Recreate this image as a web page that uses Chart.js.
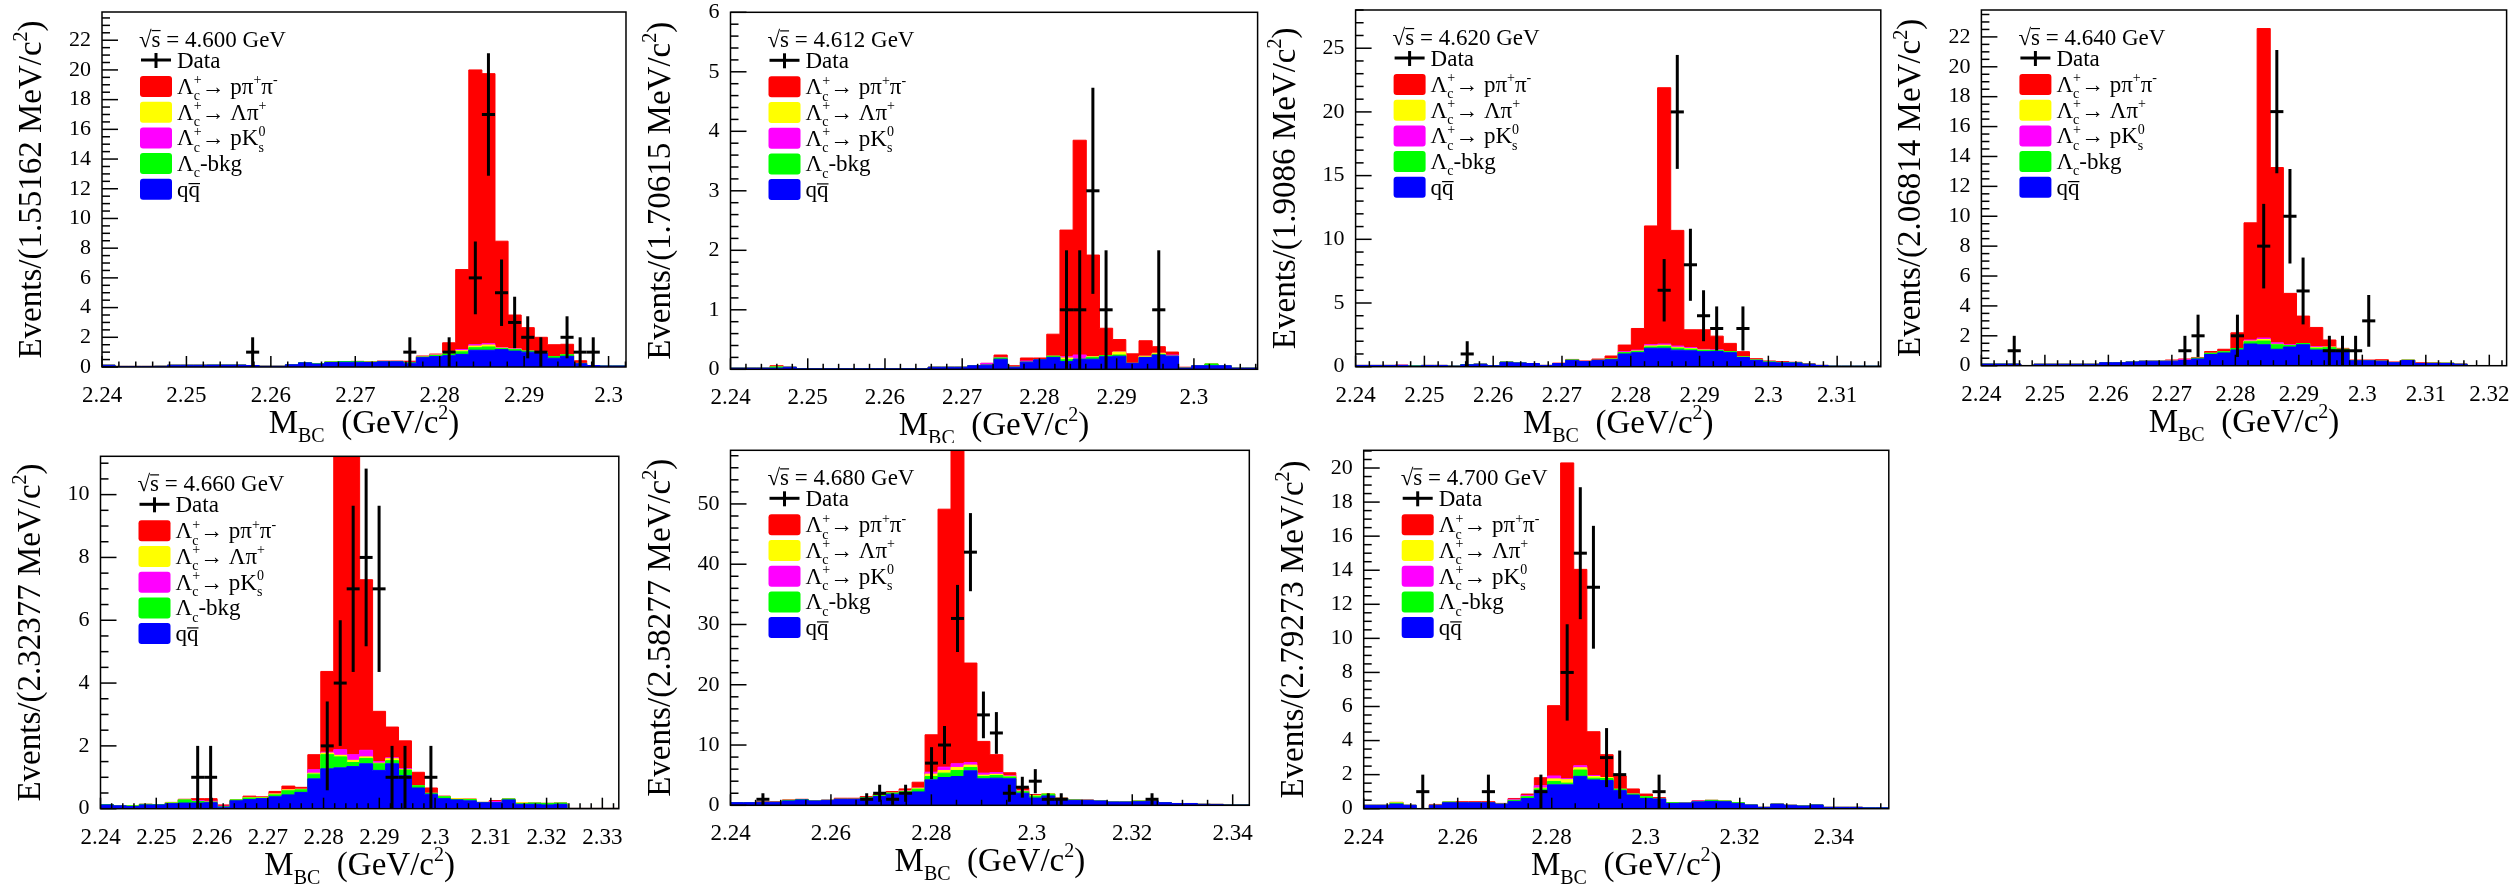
<!DOCTYPE html>
<html>
<head>
<meta charset="utf-8">
<script src="https://cdn.jsdelivr.net/npm/chart.js@4.4.0/dist/chart.umd.min.js"></script>
<style>
  html, body { margin: 0; padding: 0; background: #fff; }
  body { width: 2519px; height: 888px; position: relative; overflow: hidden; }
</style>
</head>
<body>
<script>
'use strict';

var FONT = '"Liberation Serif", "Times New Roman", serif';
var NBINS = 40;
var M_LOW = 2.24;

// centre-of-mass energies (GeV) and M_BC bin widths (MeV/c^2)
var energies = ['4.600', '4.612', '4.620', '4.640', '4.660', '4.680', '4.700'];
var binWidths = [1.55162, 1.70615, 1.9086, 2.06814, 2.32377, 2.58277, 2.79273];

// ---- 4.600 GeV ----
var qq4600 = [
  0.12, 0.12, 0.04, 0.04, 0.04, 0.05, 0.12, 0.12, 0.12, 0.13,
  0.13, 0.13, 0.10, 0.05, 0.05, 0.15, 0.28, 0.20, 0.30, 0.32,
  0.32, 0.30, 0.35, 0.35, 0.26, 0.63, 0.70, 0.76, 0.85, 1.13,
  1.13, 1.17, 1.07, 1.00, 0.91, 0.59, 0.72, 0.22, 0.10, 0.07];
var bkg4600 = [
  0, 0, 0, 0, 0, 0, 0, 0, 0, 0,
  0, 0, 0, 0, 0, 0, 0.02, 0.02, 0.04, 0.05,
  0.04, 0.03, 0.02, 0.02, 0.03, 0.04, 0.08, 0.11, 0.17, 0.17,
  0.22, 0.07, 0.10, 0.07, 0.07, 0.11, 0.10, 0.02, 0, 0];
var lpi4600 = [
  0, 0, 0, 0, 0, 0, 0, 0, 0, 0,
  0, 0, 0, 0, 0, 0, 0, 0, 0, 0,
  0, 0, 0, 0, 0, 0, 0.02, 0.05, 0.08, 0.11,
  0.13, 0.03, 0.03, 0, 0, 0, 0, 0, 0, 0];
var pks4600 = [
  0, 0, 0, 0, 0, 0, 0, 0, 0, 0,
  0, 0, 0, 0, 0, 0, 0, 0, 0, 0,
  0, 0, 0, 0, 0.02, 0.02, 0.02, 0.06, 0.07, 0.09,
  0.09, 0.03, 0.04, 0, 0, 0, 0, 0, 0, 0];
var ppp4600 = [
  0, 0, 0, 0, 0, 0, 0, 0, 0, 0,
  0, 0, 0, 0, 0, 0, 0, 0, 0, 0,
  0.02, 0.03, 0.03, 0.03, 0.08, 0.05, 0.05, 0.65, 5.39, 18.5,
  18.18, 7.17, 2.26, 1.58, 1.02, 0.80, 0.71, 0.18, 0, 0];
var data4600 = [
  0, 0, 0, 0, 0, 0, 0, 0, 0, 0,
  0, 1, 0, 0, 0, 0, 0, 0, 0, 0,
  0, 0, 0, 1, 0, 0, 1, 0, 6, 17,
  5, 3, 2, 1, 0, 2, 1, 1, 0, 0];

// ---- 4.612 GeV ----
var qq4612 = [
  0.02, 0.02, 0.02, 0.02, 0.02, 0.035, 0.01, 0.01, 0.01, 0.01,
  0.01, 0.01, 0.01, 0.01, 0.01, 0.01, 0.035, 0.035, 0.035, 0.06,
  0.07, 0.17, 0.035, 0.12, 0.16, 0.20, 0.13, 0.17, 0.17, 0.21,
  0.22, 0.10, 0.20, 0.24, 0.22, 0.02, 0.06, 0.06, 0.06, 0.02];
var bkg4612 = [
  0, 0, 0, 0, 0.02, 0, 0, 0, 0, 0,
  0, 0, 0, 0, 0, 0, 0, 0, 0, 0,
  0, 0.02, 0, 0, 0, 0.02, 0.03, 0, 0.03, 0.02,
  0.02, 0, 0, 0.01, 0, 0, 0, 0.03, 0, 0];
var lpi4612 = [
  0, 0, 0, 0, 0, 0, 0, 0, 0, 0,
  0, 0, 0, 0, 0, 0, 0, 0, 0, 0,
  0, 0, 0, 0, 0, 0, 0.03, 0, 0.01, 0,
  0.05, 0, 0.02, 0.02, 0, 0, 0, 0, 0, 0];
var pks4612 = [
  0, 0, 0, 0, 0, 0, 0, 0, 0, 0,
  0, 0, 0, 0, 0, 0, 0, 0, 0, 0,
  0.03, 0.01, 0, 0.02, 0, 0, 0.02, 0.07, 0, 0,
  0, 0, 0, 0, 0.02, 0, 0, 0, 0, 0];
var ppp4612 = [
  0, 0, 0, 0, 0.02, 0, 0, 0, 0, 0,
  0, 0, 0, 0, 0, 0, 0, 0, 0, 0,
  0, 0.04, 0.025, 0.05, 0.03, 0.37, 2.13, 3.61, 1.71, 0.46,
  0.21, 0.16, 0.26, 0.11, 0.05, 0.015, 0, 0, 0, 0];
var data4612 = [
  0, 0, 0, 0, 0, 0, 0, 0, 0, 0,
  0, 0, 0, 0, 0, 0, 0, 0, 0, 0,
  0, 0, 0, 0, 0, 1, 1, 3, 1, 0,
  0, 0, 1, 0, 0, 0, 0, 0, 0, 0];

// ---- 4.620 GeV ----
var qq4620 = [
  0.10, 0.10, 0.10, 0.10, 0.10, 0.05, 0.10, 0.10, 0.05, 0.15,
  0.20, 0.08, 0.35, 0.30, 0.25, 0.10, 0.25, 0.50, 0.40, 0.50,
  0.55, 1.00, 1.10, 1.45, 1.45, 1.30, 1.25, 1.18, 1.20, 1.10,
  0.72, 0.50, 0.35, 0.30, 0.30, 0.20, 0.10, 0.05, 0.05, 0.05];
var bkg4620 = [
  0, 0, 0, 0, 0, 0.02, 0, 0, 0, 0.02,
  0, 0, 0.02, 0, 0, 0, 0, 0.03, 0, 0,
  0.05, 0.10, 0.10, 0.10, 0.15, 0.15, 0.12, 0.10, 0.08, 0.08,
  0.05, 0.03, 0.03, 0.03, 0.03, 0, 0, 0, 0, 0];
var lpi4620 = [
  0, 0, 0, 0, 0, 0, 0, 0, 0, 0,
  0, 0, 0, 0, 0, 0, 0, 0, 0, 0,
  0, 0, 0.03, 0.08, 0.08, 0.07, 0.05, 0.03, 0, 0,
  0, 0, 0, 0, 0, 0, 0, 0, 0, 0];
var pks4620 = [
  0, 0, 0, 0, 0.02, 0, 0, 0, 0, 0,
  0, 0, 0, 0, 0, 0, 0, 0, 0, 0,
  0, 0.08, 0.07, 0.10, 0.10, 0.10, 0.08, 0.05, 0.05, 0,
  0, 0, 0, 0, 0, 0, 0, 0, 0, 0];
var ppp4620 = [
  0, 0, 0, 0, 0, 0, 0, 0, 0, 0,
  0, 0, 0, 0, 0, 0, 0.03, 0.04, 0.05, 0.10,
  0.24, 0.52, 1.70, 9.32, 20.12, 9.08, 1.40, 1.54, 1.07, 0.65,
  0.41, 0.10, 0.07, 0.07, 0.02, 0.05, 0, 0, 0, 0];
var data4620 = [
  0, 0, 0, 0, 0, 0, 0, 0, 1, 0,
  0, 0, 0, 0, 0, 0, 0, 0, 0, 0,
  0, 0, 0, 6, 20, 8, 4, 3, 0, 3,
  0, 0, 0, 0, 0, 0, 0, 0, 0, 0];

// ---- 4.640 GeV ----
var qq4640 = [
  0.11, 0.11, 0.11, 0.11, 0, 0.10, 0.10, 0.10, 0.10, 0.10,
  0.20, 0.20, 0.25, 0.30, 0.30, 0.30, 0.35, 0.45, 0.75, 0.85,
  1.05, 1.45, 1.40, 1.10, 1.25, 1.40, 1.05, 1.05, 1.00, 0.33,
  0.33, 0.30, 0.20, 0.35, 0.15, 0.15, 0.15, 0.10, 0, 0];
var bkg4640 = [
  0, 0, 0, 0, 0, 0, 0, 0, 0, 0,
  0, 0, 0, 0, 0, 0, 0, 0.05, 0.08, 0.08,
  0.10, 0.15, 0.25, 0.30, 0.10, 0.08, 0.12, 0.15, 0.10, 0,
  0, 0, 0, 0.02, 0, 0.02, 0.02, 0, 0, 0];
var lpi4640 = [
  0, 0, 0, 0, 0, 0, 0, 0, 0, 0,
  0, 0, 0, 0, 0, 0, 0, 0, 0, 0,
  0, 0.05, 0.10, 0.03, 0, 0, 0.05, 0.05, 0, 0,
  0, 0, 0, 0, 0, 0, 0, 0, 0, 0];
var pks4640 = [
  0, 0, 0, 0, 0, 0, 0, 0, 0, 0,
  0, 0, 0, 0, 0, 0.03, 0.05, 0, 0, 0,
  0, 0.07, 0.10, 0.10, 0.05, 0, 0.05, 0, 0, 0,
  0, 0, 0, 0, 0, 0, 0, 0, 0, 0];
var ppp4640 = [
  0, 0, 0, 0, 0, 0, 0, 0, 0, 0,
  0, 0, 0, 0, 0, 0.05, 0.05, 0.05, 0.12, 0.17,
  1.05, 7.84, 20.71, 11.73, 3.44, 1.84, 1.29, 0.47, 0.06, 0.05,
  0.05, 0.10, 0.05, 0, 0.05, 0.03, 0, 0.02, 0, 0];
var data4640 = [
  0, 0, 1, 0, 0, 0, 0, 0, 0, 0,
  0, 0, 0, 0, 0, 1, 2, 0, 0, 2,
  0, 8, 17, 10, 5, 0, 1, 1, 1, 3,
  0, 0, 0, 0, 0, 0, 0, 0, 0, 0];

// ---- 4.660 GeV ----
var qq4660 = [
  0.05, 0.12, 0.09, 0.07, 0.12, 0.12, 0.16, 0.18, 0.18, 0.19,
  0.05, 0.25, 0.29, 0.32, 0.38, 0.44, 0.52, 0.95, 1.27, 1.30,
  1.34, 1.43, 1.22, 1.43, 1.05, 0.66, 0.46, 0.32, 0.28, 0.25,
  0.19, 0.19, 0.28, 0.14, 0.14, 0.12, 0.14, 0.01, 0.01, 0.01];
var bkg4660 = [
  0.03, 0.01, 0, 0.02, 0.02, 0.01, 0.02, 0.10, 0.05, 0.02,
  0.01, 0.03, 0.05, 0.02, 0.06, 0.13, 0.08, 0.15, 0.45, 0.35,
  0.13, 0.17, 0.21, 0.10, 0.18, 0.07, 0.03, 0.06, 0.01, 0.04,
  0.01, 0, 0.03, 0.02, 0.04, 0.05, 0.04, 0, 0, 0];
var lpi4660 = [
  0, 0, 0, 0, 0, 0, 0.01, 0, 0, 0,
  0, 0, 0.01, 0.02, 0.03, 0.03, 0.02, 0.03, 0.05, 0.05,
  0.07, 0.05, 0.02, 0.06, 0.02, 0, 0, 0, 0.03, 0.02,
  0, 0, 0, 0.03, 0, 0, 0, 0, 0, 0];
var pks4660 = [
  0, 0, 0, 0, 0, 0, 0, 0, 0.03, 0.03,
  0.02, 0, 0, 0, 0, 0, 0, 0.11, 0.03, 0.18,
  0.18, 0.21, 0.05, 0.03, 0.03, 0, 0, 0, 0, 0,
  0, 0.04, 0, 0, 0, 0, 0, 0, 0, 0];
var ppp4660 = [
  0, 0, 0, 0, 0, 0, 0.01, 0.02, 0.06, 0.08,
  0.04, 0, 0.05, 0.02, 0.08, 0.12, 0.06, 0.48, 2.57, 10.62,
  11.48, 5.43, 1.60, 0.98, 0.88, 0.43, 0.17, 0.02, 0, 0,
  0, 0.03, 0, 0, 0, 0, 0, 0, 0, 0];
var data4660 = [
  0, 0, 0, 0, 0, 0, 0, 1, 1, 0,
  0, 0, 0, 0, 0, 0, 0, 2, 4, 7,
  8, 7, 1, 1, 0, 1, 0, 0, 0, 0,
  0, 0, 0, 0, 0, 0, 0, 0, 0, 0];

// ---- 4.680 GeV ----
var qq4680 = [
  0.28, 0.44, 0.44, 0.50, 0.50, 0.72, 0.90, 0.72, 0.83, 1.00,
  1.00, 1.17, 1.44, 1.83, 2.10, 2.22, 4.22, 4.61, 4.78, 5.72,
  4.40, 4.50, 4.40, 2.00, 1.20, 1.55, 1.10, 0.83, 0.83, 0.72,
  0.55, 0.55, 0.60, 0.67, 0.44, 0.30, 0.30, 0.17, 0.15, 0.05];
var bkg4680 = [
  0, 0, 0, 0, 0, 0.10, 0.05, 0, 0, 0,
  0, 0.10, 0.15, 0.20, 0.15, 0.45, 0.56, 0.72, 1.00, 0.56,
  0.39, 0.44, 0.30, 0.25, 0.30, 0.30, 0.05, 0.05, 0, 0,
  0, 0, 0.10, 0, 0, 0, 0, 0, 0, 0];
var lpi4680 = [
  0, 0, 0, 0, 0, 0, 0, 0, 0, 0,
  0, 0, 0, 0, 0.10, 0.16, 0.39, 0.45, 0.50, 0.39,
  0.20, 0.20, 0.10, 0.10, 0.10, 0.05, 0, 0, 0, 0,
  0, 0, 0, 0, 0, 0, 0, 0, 0, 0];
var pks4680 = [
  0, 0, 0, 0, 0, 0, 0, 0, 0, 0,
  0, 0, 0, 0, 0.05, 0.05, 0.33, 0.55, 0.61, 0.43,
  0.35, 0.30, 0.10, 0.05, 0, 0, 0, 0, 0, 0,
  0, 0, 0, 0, 0, 0, 0, 0, 0, 0];
var ppp4680 = [
  0, 0, 0, 0.10, 0.10, 0.08, 0.05, 0.03, 0.02, 0.17,
  0.17, 0.17, 0.24, 0.25, 0.32, 0.95, 6.20, 42.8, 56.1, 16.5,
  5.26, 2.96, 0.50, 0.50, 0.18, 0, 0.05, 0.05, 0.05, 0,
  0, 0, 0, 0, 0, 0, 0, 0, 0, 0];
var data4680 = [
  0, 0, 1, 0, 0, 0, 0, 0, 0, 0,
  1, 2, 1, 2, 0, 7, 10, 31, 42, 15,
  12, 2, 3, 4, 1, 1, 0, 0, 0, 0,
  0, 0, 1, 0, 0, 0, 0, 0, 0, 0];

// ---- 4.700 GeV ----
var qq4700 = [
  0.20, 0.20, 0.20, 0.27, 0.20, 0, 0.20, 0.35, 0.35, 0.35,
  0.35, 0.27, 0.43, 0.60, 1.06, 1.40, 1.40, 1.90, 1.69, 1.65,
  1.06, 0.80, 0.60, 0.57, 0.31, 0.33, 0.40, 0.43, 0.41, 0.31,
  0.22, 0.08, 0.27, 0.20, 0.16, 0.22, 0.08, 0.08, 0.08, 0.05];
var bkg4700 = [
  0, 0, 0, 0.05, 0, 0, 0, 0.04, 0, 0,
  0, 0, 0.06, 0.10, 0.10, 0.20, 0.10, 0.37, 0.10, 0.12,
  0.08, 0.06, 0.10, 0, 0.04, 0, 0, 0.06, 0.04, 0.04,
  0, 0, 0, 0, 0, 0, 0, 0, 0, 0];
var lpi4700 = [
  0, 0, 0, 0.05, 0, 0, 0, 0, 0, 0,
  0, 0, 0, 0, 0.05, 0.15, 0.20, 0.13, 0.10, 0.06,
  0, 0, 0, 0, 0, 0, 0, 0, 0, 0,
  0, 0, 0, 0, 0, 0, 0, 0, 0, 0];
var pks4700 = [
  0, 0, 0, 0, 0, 0, 0, 0, 0, 0,
  0, 0, 0.06, 0.08, 0.14, 0.17, 0.06, 0.12, 0.06, 0,
  0, 0, 0, 0, 0, 0, 0.04, 0, 0, 0,
  0, 0, 0, 0, 0, 0, 0, 0, 0, 0];
var ppp4700 = [
  0, 0, 0, 0, 0, 0, 0.05, 0, 0.06, 0.06,
  0.06, 0.04, 0.05, 0.08, 0.47, 4.13, 18.54, 11.53, 2.57, 1.34,
  0.78, 0.30, 0.16, 0.08, 0, 0, 0.02, 0, 0, 0,
  0, 0, 0, 0, 0, 0, 0, 0, 0, 0];
var data4700 = [
  0, 0, 0, 0, 1, 0, 0, 0, 0, 1,
  0, 0, 0, 1, 0, 8, 15, 13, 3, 2,
  0, 0, 1, 0, 0, 0, 0, 0, 0, 0,
  0, 0, 0, 0, 0, 0, 0, 0, 0, 0];

// stack order bottom -> top; row = position in the legend
var components = [
  { key: 'qq',  color: '#0000ff', row: 4, label: 'qq\u0304',
    rich: [{ t: 'q' }, { t: 'q', bar: 0.6 }] },
  { key: 'bkg', color: '#00ff00', row: 3, label: '\u039bc-bkg',
    rich: [{ t: '\u039b', sub: 'c' }, { t: '-bkg' }] },
  { key: 'lpi', color: '#ffff00', row: 1, label: '\u039bc+\u2192 \u039b\u03c0+',
    rich: [{ t: '\u039b', sub: 'c', sup: '+' }, { t: '\u2192 \u039b\u03c0', sup: '+' }] },
  { key: 'pks', color: '#ff00ff', row: 2, label: '\u039bc+\u2192 pK0s',
    rich: [{ t: '\u039b', sub: 'c', sup: '+' }, { t: '\u2192 pK', sub: 's', sup: '0' }] },
  { key: 'ppp', color: '#ff0000', row: 0, label: '\u039bc+\u2192 p\u03c0+\u03c0-',
    rich: [{ t: '\u039b', sub: 'c', sup: '+' }, { t: '\u2192 p\u03c0', sup: '+' }, { t: '\u03c0', sup: '-' }] }
];

// page cells and frame box [left, top, right, bottom] inside each cell
var panels = [
  { energy: energies[0], mev: binWidths[0], qq: qq4600, bkg: bkg4600, lpi: lpi4600, pks: pks4600, ppp: ppp4600, data: data4600,
    yMax: 23.9, yStep: 2, yDiv: 4, xStep: 0.01, xDiv: 5, cell: [0, 0, 630, 443], frame: [102, 12, 628, 367] },
  { energy: energies[1], mev: binWidths[1], qq: qq4612, bkg: bkg4612, lpi: lpi4612, pks: pks4612, ppp: ppp4612, data: data4612,
    yMax: 6, yStep: 1, yDiv: 5, xStep: 0.01, xDiv: 5, cell: [630, 0, 630, 443], frame: [100.5, 12.3, 627.6, 369.3] },
  { energy: energies[2], mev: binWidths[2], qq: qq4620, bkg: bkg4620, lpi: lpi4620, pks: pks4620, ppp: ppp4620, data: data4620,
    yMax: 28, yStep: 5, yDiv: 5, xStep: 0.01, xDiv: 5, cell: [1260, 0, 630, 443], frame: [95.6, 10, 620.8, 366.7] },
  { energy: energies[3], mev: binWidths[3], qq: qq4640, bkg: bkg4640, lpi: lpi4640, pks: pks4640, ppp: ppp4640, data: data4640,
    yMax: 23.8, yStep: 2, yDiv: 4, xStep: 0.01, xDiv: 5, cell: [1889, 0, 630, 443], frame: [92.4, 10, 617.6, 365.7] },
  { energy: energies[4], mev: binWidths[4], qq: qq4660, bkg: bkg4660, lpi: lpi4660, pks: pks4660, ppp: ppp4660, data: data4660,
    yMax: 11.22, yStep: 2, yDiv: 4, xStep: 0.01, xDiv: 5, cell: [0, 443, 630, 445], frame: [100.5, 13.3, 618.8, 365.7] },
  { energy: energies[5], mev: binWidths[5], qq: qq4680, bkg: bkg4680, lpi: lpi4680, pks: pks4680, ppp: ppp4680, data: data4680,
    yMax: 58.9, yStep: 10, yDiv: 5, xStep: 0.02, xDiv: 4, cell: [630, 443, 630, 445], frame: [100.5, 7.3, 624, 362.3] },
  { energy: energies[6], mev: binWidths[6], qq: qq4700, bkg: bkg4700, lpi: lpi4700, pks: pks4700, ppp: ppp4700, data: data4700,
    yMax: 21.04, yStep: 2, yDiv: 4, xStep: 0.02, xDiv: 4, cell: [1260, 443, 630, 445], frame: [103.7, 7.3, 628.8, 365.7] }
];

var Y_AXIS_W = 60;   // room kept for y tick labels
var X_AXIS_H = 40;   // room kept for x tick labels

// text with ROOT-like sub/superscripts and overlines
function richWidth(ctx, parts, size) {
  var w = 0;
  parts.forEach(function(p) {
    ctx.font = size + 'px ' + FONT;
    w += ctx.measureText(p.t).width;
    if (p.sub || p.sup) {
      ctx.font = Math.round(size * 0.62) + 'px ' + FONT;
      w += Math.max(p.sub ? ctx.measureText(p.sub).width : 0, p.sup ? ctx.measureText(p.sup).width : 0);
    }
  });
  return w;
}

function drawRich(ctx, x, y, parts, size, align) {
  var cx = align === 'center' ? x - richWidth(ctx, parts, size) / 2 : x;
  var small = Math.round(size * 0.62);
  parts.forEach(function(p) {
    ctx.font = size + 'px ' + FONT;
    var w = ctx.measureText(p.t).width;
    ctx.fillText(p.t, cx, y);
    if (p.bar) {
      var gw = ctx.measureText(p.t.slice(-1)).width;
      ctx.fillRect(cx + w - gw, y - size * p.bar, gw, Math.max(1.2, size * 0.05));
    }
    cx += w;
    if (p.sub || p.sup) {
      ctx.font = small + 'px ' + FONT;
      var ws = 0;
      if (p.sub) { ctx.fillText(p.sub, cx, y + size * 0.27); ws = ctx.measureText(p.sub).width; }
      if (p.sup) { ctx.fillText(p.sup, cx, y - size * 0.42); ws = Math.max(ws, ctx.measureText(p.sup).width); }
      cx += ws;
    }
  });
}

function seg(ctx, x1, y1, x2, y2) {
  ctx.beginPath();
  ctx.moveTo(x1, y1);
  ctx.lineTo(x2, y2);
  ctx.stroke();
}

// frame box with inward major/minor ticks, plus the y tick labels
// (labels drawn here so the top one can sit on the frame edge without
// Chart.js shrinking the plot area to make room for it)
var rootFrame = {
  id: 'rootFrame',
  afterDatasetsDraw: function(chart, args, opts) {
    var ctx = chart.ctx, a = chart.chartArea, x = chart.scales.x, y = chart.scales.y;
    ctx.save();
    ctx.strokeStyle = '#000';
    ctx.lineWidth = 1.5;
    var xs = opts.xStep / opts.xDiv;
    for (var k = 0; ; k++) {
      var v = x.min + k * xs;
      if (v > x.max + 1e-9) break;
      var px = x.getPixelForValue(v);
      seg(ctx, px, a.bottom, px, a.bottom - (k % opts.xDiv === 0 ? 11 : 5.5));
    }
    var ys = opts.yStep / opts.yDiv;
    for (var j = 0; ; j++) {
      var w = j * ys;
      if (w > y.max + 1e-9) break;
      var py = y.getPixelForValue(w);
      seg(ctx, a.left, py, a.left + (j % opts.yDiv === 0 ? 16 : 8), py);
    }
    ctx.strokeRect(a.left, a.top, a.right - a.left, a.bottom - a.top);

    ctx.fillStyle = '#000';
    ctx.font = '22px ' + FONT;
    ctx.textAlign = 'right';
    ctx.textBaseline = 'middle';
    y.ticks.forEach(function(t) {
      var txt = (t.label !== undefined && t.label !== '') ? t.label : String(t.value);
      ctx.fillText(txt, a.left - 11, y.getPixelForValue(t.value));
    });
    ctx.restore();
  }
};

// data counts drawn as crosses: bin width horizontally, sqrt(N) vertically
var dataErrors = {
  id: 'dataErrors',
  afterDatasetsDraw: function(chart) {
    var ctx = chart.ctx, x = chart.scales.x, y = chart.scales.y;
    chart.data.datasets.forEach(function(ds, i) {
      if (!ds.errorBars) return;
      var meta = chart.getDatasetMeta(i);
      ctx.save();
      ctx.strokeStyle = '#000';
      ctx.lineWidth = 3;
      meta.data.forEach(function(pt, k) {
        var d = ds.data[k];
        var err = Math.sqrt(d.y);
        seg(ctx, x.getPixelForValue(d.x - ds.halfWidth), pt.y, x.getPixelForValue(d.x + ds.halfWidth), pt.y);
        seg(ctx, pt.x, y.getPixelForValue(d.y - err), pt.x, y.getPixelForValue(d.y + err));
      });
      ctx.restore();
    });
  }
};

// axis titles and the legend block
var rootText = {
  id: 'rootText',
  afterDraw: function(chart, args, opts) {
    var ctx = chart.ctx, a = chart.chartArea;
    var L = a.left, T = a.top;
    ctx.save();
    ctx.fillStyle = '#000';
    ctx.textAlign = 'left';
    ctx.textBaseline = 'alphabetic';

    // y title
    ctx.save();
    ctx.translate(L - 61, (a.top + a.bottom) / 2);
    ctx.rotate(-Math.PI / 2);
    drawRich(ctx, 0, 0, [{ t: 'Events/(' + opts.mev + ' MeV/c', sup: '2' }, { t: ')' }], 33, 'center');
    ctx.restore();

    // x title
    drawRich(ctx, (a.left + a.right) / 2, a.bottom + 66,
      [{ t: 'M', sub: 'BC' }, { t: '  (GeV/c', sup: '2' }, { t: ')' }], 33, 'center');

    // legend
    drawRich(ctx, L + 37, T + 35, [{ t: '\u221a' }, { t: 's', bar: 0.74 }, { t: ' = ' + opts.energy + ' GeV' }], 23);
    ctx.strokeStyle = '#000';
    ctx.lineWidth = 3;
    seg(ctx, L + 39, T + 48, L + 69, T + 48);
    seg(ctx, L + 54, T + 41, L + 54, T + 56);
    drawRich(ctx, L + 75, T + 56, [{ t: 'Data' }], 23);

    chart.data.datasets.forEach(function(ds) {
      if (ds.row === undefined) return;
      var top = T + 64 + ds.row * 25.7;
      ctx.fillStyle = ds.backgroundColor;
      ctx.beginPath();
      ctx.roundRect(L + 38, top, 32, 21, 3);
      ctx.fill();
      ctx.fillStyle = '#000';
      drawRich(ctx, L + 75, top + 18, ds.rich, 23);
    });
    ctx.restore();
  }
};

function buildPanel(p) {
  var box = document.createElement('div');
  box.style.cssText = 'position:absolute;left:' + p.cell[0] + 'px;top:' + p.cell[1] + 'px;width:' +
    p.cell[2] + 'px;height:' + p.cell[3] + 'px';
  var canvas = document.createElement('canvas');
  box.appendChild(canvas);
  document.body.appendChild(box);

  var w = p.mev / 1000;
  var edges = [];
  for (var i = 0; i <= NBINS; i++) edges.push(M_LOW + i * w);

  // one point per bin edge; the last edge repeats the last bin for the step
  function steps(vals) {
    return edges.map(function(e, i) {
      return { x: e, y: vals[Math.min(i, NBINS - 1)] };
    });
  }

  var datasets = components.map(function(c, idx) {
    return {
      label: c.label,
      rich: c.rich,
      row: c.row,
      data: steps(p[c.key]),
      stepped: 'after',
      fill: idx === 0 ? 'origin' : '-1',
      backgroundColor: c.color,
      borderColor: c.color,
      borderWidth: 1,
      pointRadius: 0
    };
  });

  var points = [];
  p.data.forEach(function(n, i) {
    if (n > 0) points.push({ x: M_LOW + (i + 0.5) * w, y: n });
  });
  datasets.push({
    type: 'scatter',
    label: 'Data',
    stack: 'data',
    data: points,
    errorBars: true,
    halfWidth: w / 2,
    pointRadius: 0,
    fill: false
  });

  var f = p.frame;
  new Chart(canvas, {
    type: 'line',
    data: { datasets: datasets },
    options: {
      responsive: true,
      maintainAspectRatio: false,
      animation: false,
      events: [],
      layout: {
        autoPadding: false,
        padding: { left: f[0] - Y_AXIS_W, top: f[1], right: p.cell[2] - f[2], bottom: p.cell[3] - f[3] - X_AXIS_H }
      },
      plugins: {
        legend: { display: false },
        tooltip: { enabled: false },
        rootFrame: { xStep: p.xStep, xDiv: p.xDiv, yStep: p.yStep, yDiv: p.yDiv },
        rootText: { energy: p.energy, mev: p.mev }
      },
      scales: {
        x: {
          type: 'linear',
          min: M_LOW,
          max: M_LOW + NBINS * w,
          offset: false,
          grid: { display: false },
          border: { display: false },
          afterFit: function(s) { s.height = X_AXIS_H; },
          ticks: {
            stepSize: p.xStep,
            includeBounds: false,
            autoSkip: false,
            maxRotation: 0,
            minRotation: 0,
            padding: 7,
            color: '#000',
            font: { family: FONT, size: 23 },
            callback: function(v) { return String(parseFloat(v.toFixed(3))); }
          }
        },
        y: {
          stacked: true,
          min: 0,
          max: p.yMax,
          grid: { display: false },
          border: { display: false },
          afterFit: function(s) { s.width = Y_AXIS_W; },
          // ticks at every yStep up to the top of the frame
          afterBuildTicks: function(s) {
            var t = [];
            for (var k = 0; k * p.yStep <= p.yMax + 1e-9; k++) t.push({ value: k * p.yStep });
            s.ticks = t;
          },
          ticks: {
            display: false,
            callback: function(v) { return String(v); }
          }
        }
      }
    },
    plugins: [rootFrame, dataErrors, rootText]
  });
}

panels.forEach(buildPanel);
</script>
</body>
</html>
